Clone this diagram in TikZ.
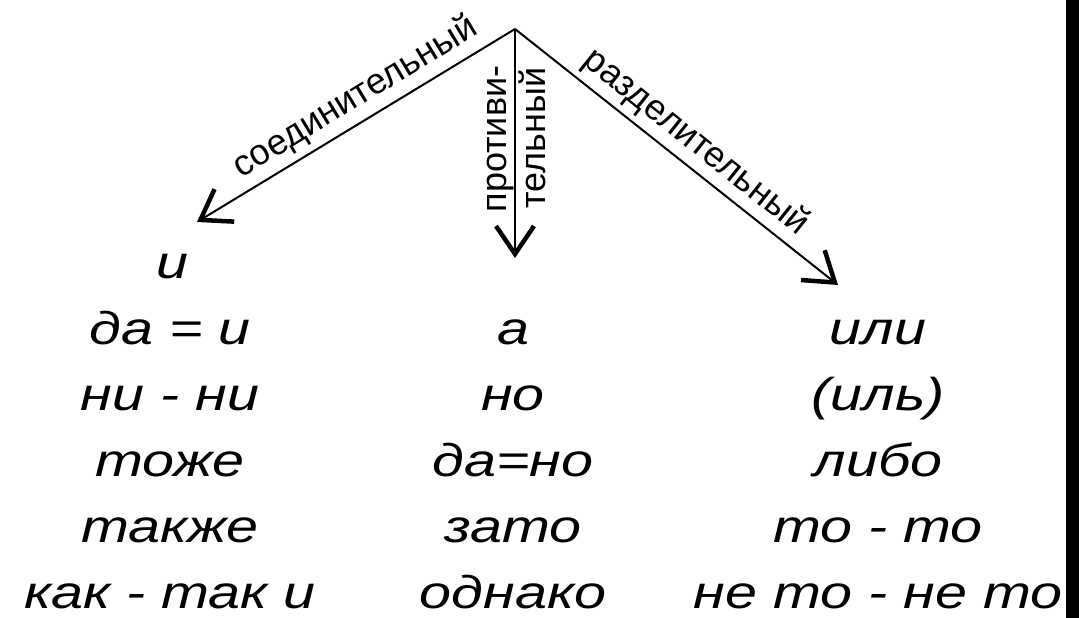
\documentclass[tikz,border=0pt]{standalone}
\usepackage{fontspec}
\setmainfont{Liberation Sans}
\newfontfamily\wordfont[FakeStretch=1.25]{Liberation Sans Italic}
\usetikzlibrary{arrows.meta}

\tikzset{
    word/.style={anchor=base, inner sep=0pt, font=\wordfont\fontsize{46}{64}\selectfont},
    kind/.style={inner sep=5pt, font=\fontsize{36}{40}\selectfont},
    branch/.style={line width=2pt, -{Straight Barb[length=28pt,width=38pt,line width=4.5pt]}}
}

\begin{document}
\begin{tikzpicture}[x=1pt,y=-1pt]
    \useasboundingbox (0,0) rectangle (1079,618);
    \fill [black] (1066,0) rectangle (1079,618);
    \coordinate (root) at (515,29);
    \coordinate (soed) at (197,222);
    \coordinate (protiv) at (515,258);
    \coordinate (razdel) at (838,285);
    \draw [branch] (root) -- (soed);
    \draw [branch] (root) -- (protiv);
    \draw [branch] (root) -- (razdel);
    \node [kind, rotate=31.3, anchor=south, inner sep=7pt] (soedLbl) at (368,118) {соединительный};
    \node [kind, rotate=90, anchor=base, inner sep=0pt] (protivLbl) at (506,139) {противи-};
    \node [kind, rotate=90, anchor=base, inner sep=0pt] (telLbl) at (545,138) {тельный};
    \node [kind, rotate=-38.6, anchor=south] (razdelLbl) at (682,160) {разделительный};
    \node [word] (soed1) at (172,278) {и};
    \node [word] (soed2) at (170,344) {да = и};
    \node [word] (soed3) at (170,410) {ни - ни};
    \node [word] (soed4) at (170,476) {тоже};
    \node [word] (soed5) at (170,542) {также};
    \node [word] (soed6) at (170,608) {как - так и};
    \node [word] (protiv1) at (513,344) {а};
    \node [word] (protiv2) at (513,410) {но};
    \node [word] (protiv3) at (513,476) {да=но};
    \node [word] (protiv4) at (513,542) {зато};
    \node [word] (protiv5) at (513,608) {однако};
    \node [word] (razdel1) at (878,344) {или};
    \node [word] (razdel2) at (878,410) {(иль)};
    \node [word] (razdel3) at (878,476) {либо};
    \node [word] (razdel4) at (878,542) {то - то};
    \node [word] (razdel5) at (878,608) {не то - не то};
\end{tikzpicture}
\end{document}
